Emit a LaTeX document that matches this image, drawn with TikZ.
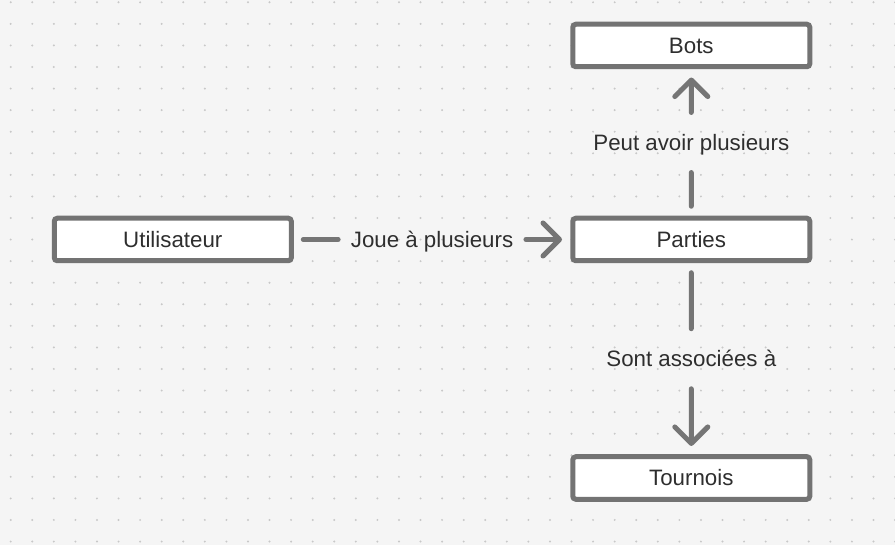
\documentclass[tikz,border=0pt]{standalone}
\usepackage{fontspec}
\setmainfont{Liberation Sans}
\usetikzlibrary{arrows.meta,calc}
\definecolor{bgc}{RGB}{245,245,245}
\definecolor{dotc}{RGB}{200,200,200}
\definecolor{boxc}{RGB}{115,115,115}
\definecolor{linec}{RGB}{117,117,117}
\definecolor{txtc}{RGB}{46,46,46}
\tikzset{
  boxnode/.style={draw=boxc, line width=5pt, fill=white, rounded corners=3pt,
    minimum width=237pt, minimum height=42.5pt, inner sep=0pt,
    font=\fontsize{22.3}{26}\selectfont, text=txtc, text height=15.7pt, text depth=0pt},
  hlab/.style={font=\fontsize{22.3}{26}\selectfont, text=txtc, inner xsep=12.5pt, inner ysep=0pt,
    text height=15.7pt, text depth=0pt},
  vlab/.style={font=\fontsize{22.3}{26}\selectfont, text=txtc, inner xsep=0pt, inner ysep=22pt,
    text height=15.7pt, text depth=0pt},
  conn/.style={draw=linec, line width=5pt, line cap=round, line join=round},
  startgap/.style={shorten <=9.5pt},
  arrowend/.style={-{Straight Barb[length=16.5pt, width=33pt, line cap=round, line join=round]}, shorten >=8.3pt},
}
\begin{document}
\begin{tikzpicture}[x=1pt, y=1pt]
  \fill[bgc] (0,0) rectangle (895,-545);
  \useasboundingbox (0,0) rectangle (895,-545);
  \foreach \i in {0,...,41} {
    \foreach \j in {0,...,25} {
      \fill[dotc] ({10.7+21.57*\i},{-2.3-21.57*\j}) circle (1.1);
    }
  }
  \node[boxnode] (bots) at (691.3,-45.5) {Bots};
  \node[boxnode] (parties) at (691.3,-239.5) {Parties};
  \node[boxnode] (util) at (172.8,-239.5) {Utilisateur};
  \node[boxnode] (tournois) at (691.3,-478) {Tournois};

  \node[hlab] (l1) at ($(util.east)!0.5!(parties.west)$) {Joue à plusieurs};
  \node[vlab] (l2) at ($(parties.north)!0.5!(bots.south)$) {Peut avoir plusieurs};
  \node[vlab] (l3) at ($(parties.south)!0.5!(tournois.north)$) {Sont associées à};

  \draw[conn, startgap] (util) -- (l1);
  \draw[conn, arrowend] (l1) -- (parties);
  \draw[conn, startgap] (parties) -- (l2);
  \draw[conn, arrowend] (l2) -- (bots);
  \draw[conn, startgap] (parties) -- (l3);
  \draw[conn, arrowend] (l3) -- (tournois);
\end{tikzpicture}
\end{document}
